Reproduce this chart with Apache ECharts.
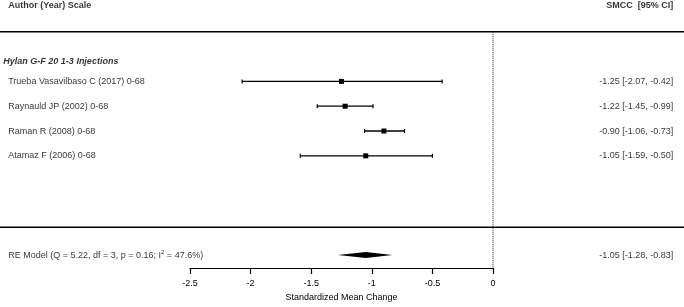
<!DOCTYPE html>
<html>
<head>
<meta charset="utf-8">
<script src="https://cdn.jsdelivr.net/npm/echarts@6/dist/echarts.min.js"></script>
<style>
html,body{margin:0;padding:0;background:#fff;}
#main{width:684px;height:307px;}
</style>
</head>
<body>
<div id="main"></div>
<script>
// ---- data ----
const studies = ["Trueba Vasavilbaso C (2017) 0-68", "Raynauld JP (2002) 0-68", "Raman R (2008) 0-68", "Atamaz F (2006) 0-68"];
const estimates = [-1.25, -1.22, -0.90, -1.05];
const lowerCI = [-2.07, -1.45, -1.06, -1.59];
const upperCI = [-0.42, -0.99, -0.73, -0.50];
const rows = [6, 5, 4, 3];
const groupTitle = "Hylan G-F 20 1-3 Injections";
const reLabelStart = "RE Model (Q = 5.22, df = 3, p = 0.16; I";
const reLabelSup = "2";
const reLabelEnd = " = 47.6%)";
const reEstimate = -1.05, reLower = -1.28, reUpper = -0.83;
const reRow = -1;
const xTicks = [-2.5, -2, -1.5, -1, -0.5, 0];
const headerLeft = "Author (Year) Scale";
const headerRight = "SMCC  [95% CI]";

function fmt(v){ return v.toFixed(2); }
function ciText(e,l,u){ return fmt(e) + " [" + fmt(l) + ", " + fmt(u) + "]"; }

// layout constants
const X_MIN = xTicks[0], X_MAX = xTicks[xTicks.length-1];
const Y_MIN = -1.52, Y_MAX = 9.28;
const LEFT_X = -4.0, HEAD_X = -4.04, RIGHT_X = 1.488;
const HEADER_ROW = 9.04, TOPLINE_ROW = 8, SEP_ROW = 0.12, GROUP_ROW = 6.8;
const FONT = "'Liberation Sans', Arial, sans-serif";

const chart = echarts.init(document.getElementById('main'), null, {renderer:'canvas'});

const leftTexts = studies.map((s,i)=>({value:[LEFT_X, rows[i]], name:s}));
const rightTexts = studies.map((s,i)=>({value:[RIGHT_X, rows[i]], name:ciText(estimates[i], lowerCI[i], upperCI[i])}));
rightTexts.push({value:[RIGHT_X, reRow], name:ciText(reEstimate, reLower, reUpper)});

const option = {
  animation:false,
  grid:{left:190, right:191, top:0, bottom:37, containLabel:false},
  xAxis:{
    type:'value', min:X_MIN, max:X_MAX, interval:0.5,
    axisLine:{show:true, onZero:false, lineStyle:{color:'#000', width:1.2}},
    axisTick:{show:true, length:6, lineStyle:{color:'#000', width:1.2}},
    axisLabel:{color:'#000', fontSize:9, fontFamily:FONT, margin:11},
    splitLine:{show:false},
    name:'Standardized Mean Change', nameLocation:'middle', nameGap:25,
    nameTextStyle:{color:'#000', fontSize:9, fontFamily:FONT}
  },
  yAxis:{type:'value', min:Y_MIN, max:Y_MAX, show:false, splitLine:{show:false}},
  series:[
    { // decorations: rules and reference line
      type:'custom', clip:false, silent:true,
      data:[[0]],
      renderItem:function(params, api){
        const W = api.getWidth();
        const top = api.coord([0, TOPLINE_ROW]);
        const sep = api.coord([0, SEP_ROW]);
        const bot = api.coord([0, Y_MIN]);
        return {type:'group', children:[
          {type:'line', shape:{x1:0, y1:top[1], x2:W, y2:top[1]}, style:{stroke:'#000', lineWidth:1.5}},
          {type:'line', shape:{x1:0, y1:sep[1], x2:W, y2:sep[1]}, style:{stroke:'#000', lineWidth:1.5}},
          {type:'line', shape:{x1:top[0], y1:top[1], x2:bot[0], y2:bot[1]}, style:{stroke:'#222', lineWidth:1, lineDash:[1,1]}}
        ]};
      }
    },
    { // study CIs
      type:'custom', clip:false,
      data: estimates.map((e,i)=>[e, rows[i], lowerCI[i], upperCI[i]]),
      renderItem:function(params, api){
        const y = api.value(1);
        const p = api.coord([api.value(0), y]);
        const l = api.coord([api.value(2), y]);
        const u = api.coord([api.value(3), y]);
        const s = 5, c = 2;
        return {type:'group', children:[
          {type:'line', shape:{x1:l[0], y1:p[1], x2:u[0], y2:p[1]}, style:{stroke:'#000', lineWidth:1.3}},
          {type:'line', shape:{x1:l[0], y1:p[1]-c, x2:l[0], y2:p[1]+c}, style:{stroke:'#000', lineWidth:1.2}},
          {type:'line', shape:{x1:u[0], y1:p[1]-c, x2:u[0], y2:p[1]+c}, style:{stroke:'#000', lineWidth:1.2}},
          {type:'rect', shape:{x:p[0]-s/2, y:p[1]-s/2, width:s, height:s}, style:{fill:'#000'}}
        ]};
      }
    },
    { // RE diamond
      type:'custom', clip:false,
      data:[[reEstimate, reRow, reLower, reUpper]],
      renderItem:function(params, api){
        const y = api.value(1);
        const p = api.coord([api.value(0), y]);
        const l = api.coord([api.value(2), y]);
        const u = api.coord([api.value(3), y]);
        const h = 3;
        return {type:'polygon', shape:{points:[[l[0],p[1]],[p[0],p[1]-h],[u[0],p[1]],[p[0],p[1]+h]]}, style:{fill:'#000'}};
      }
    },
    { // left texts
      type:'scatter', clip:false, symbolSize:0, silent:true,
      data:leftTexts,
      label:{show:true, position:'right', distance:0, formatter:p=>p.name, color:'#000', fontSize:9, fontFamily:FONT}
    },
    { // RE model label with superscript
      type:'scatter', clip:false, symbolSize:0, silent:true,
      data:[{value:[LEFT_X, reRow]}],
      label:{show:true, position:'right', distance:0,
        formatter:'{a|' + reLabelStart + '}{s|' + reLabelSup + '}{a|' + reLabelEnd + '}',
        rich:{
          a:{color:'#000', fontSize:9, fontFamily:FONT, lineHeight:12},
          s:{color:'#000', fontSize:6, fontFamily:FONT, lineHeight:12, padding:[0,0,5,0]}
        }}
    },
    { // right texts
      type:'scatter', clip:false, symbolSize:0, silent:true,
      data:rightTexts,
      label:{show:true, position:'left', distance:0, formatter:p=>p.name, color:'#000', fontSize:9, fontFamily:FONT}
    },
    { // group heading
      type:'scatter', clip:false, symbolSize:0, silent:true,
      data:[{value:[HEAD_X, GROUP_ROW], name:groupTitle}],
      label:{show:true, position:'right', distance:0, formatter:p=>p.name, color:'#000', fontSize:9, fontWeight:'bold', fontStyle:'italic', fontFamily:FONT}
    },
    { // column headers
      type:'scatter', clip:false, symbolSize:0, silent:true,
      data:[{value:[LEFT_X, HEADER_ROW], name:headerLeft}],
      label:{show:true, position:'right', distance:0, formatter:p=>p.name, color:'#000', fontSize:9, fontWeight:'bold', fontFamily:FONT}
    },
    {
      type:'scatter', clip:false, symbolSize:0, silent:true,
      data:[{value:[RIGHT_X, HEADER_ROW], name:headerRight}],
      label:{show:true, position:'left', distance:0, formatter:p=>p.name, color:'#000', fontSize:9, fontWeight:'bold', fontFamily:FONT}
    }
  ]
};
chart.setOption(option);
</script>
</body>
</html>
